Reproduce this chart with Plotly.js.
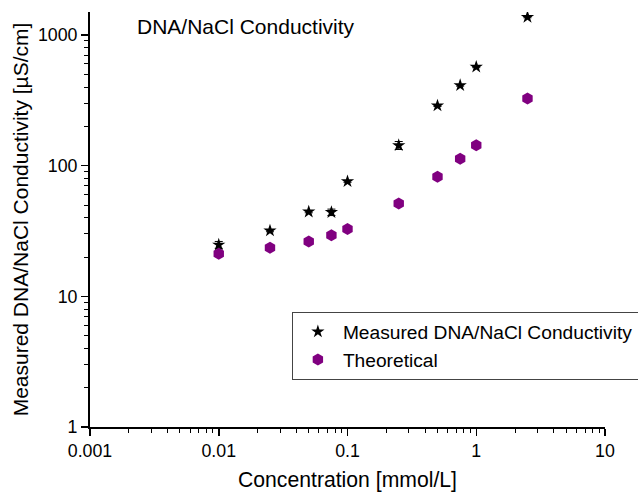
<!DOCTYPE html>
<html>
<head>
<meta charset="utf-8">
<script src="https://cdn.plot.ly/plotly-3.0.1.min.js"></script>
<style>html,body{margin:0;padding:0;background:#fff;}#chart{width:638px;height:492px;}</style>
</head>
<body>
<div id="chart"></div>
<script>
var concentration = [0.01, 0.025, 0.05, 0.075, 0.1, 0.25, 0.5, 0.75, 1, 2.5];
var measured = [24.8, 31.8, 44.4, 44.0, 75.8, 143, 288, 412, 570, 1369];
var measuredErr = [1.5, 0.6, 0.8, 2.5, 1.2, 10, 4, 6, 8, 15];
var theoretical = [21.2, 23.5, 26.3, 29.4, 32.7, 51.4, 82.4, 113, 143, 326];
var xTickVals = [0.001, 0.01, 0.1, 1, 10];
var xTickText = ['0.001', '0.01', '0.1', '1', '10'];
var yTickVals = [1, 10, 100, 1000];
var yTickText = ['1', '10', '100', '1000'];

var fontFam = 'Liberation Sans, Arial, sans-serif';

var traces = [
  {
    x: concentration, y: measured, type: 'scatter', mode: 'markers',
    name: 'Measured DNA/NaCl Conductivity',
    marker: {symbol: 'star', size: 10, color: '#000000'},
    error_y: {type: 'data', array: measuredErr, visible: true, color: '#000000', thickness: 1, width: 4}
  },
  {
    x: concentration, y: theoretical, type: 'scatter', mode: 'markers',
    name: 'Theoretical',
    marker: {symbol: 'hexagon', size: 12, color: '#800080'}
  }
];

var layout = {
  width: 638, height: 492,
  margin: {l: 90, r: 33, t: 12, b: 65, autoexpand: false},
  paper_bgcolor: '#ffffff', plot_bgcolor: '#ffffff',
  font: {family: fontFam, size: 18, color: '#000000'},
  showlegend: true,
  legend: {
    x: 0.392, y: 0.278, xanchor: 'left', yanchor: 'top',
    bordercolor: '#444444', borderwidth: 1, bgcolor: 'rgba(255,255,255,0)',
    font: {family: fontFam, size: 19.2, color: '#000000'},
    itemwidth: 40, tracegroupgap: 0
  },
  xaxis: {
    type: 'log', range: [-3, 1], automargin: false,
    tickvals: xTickVals, ticktext: xTickText,
    ticks: 'outside', ticklen: 7, tickwidth: 1.5, tickcolor: '#000',
    showline: true, linecolor: '#000', linewidth: 2,
    showgrid: false, zeroline: false, mirror: false,
    tickfont: {family: fontFam, size: 17.8, color: '#000'},
    minor: {ticks: 'outside', ticklen: 4, tickwidth: 1, tickcolor: '#000', dtick: 'D1', showgrid: false},
    title: {text: 'Concentration [mmol/L]', font: {family: fontFam, size: 21.2, color: '#000'}, standoff: 14}
  },
  yaxis: {
    type: 'log', range: [0, 3.176], automargin: false,
    tickvals: yTickVals, ticktext: yTickText,
    ticks: 'outside', ticklen: 7, tickwidth: 1.5, tickcolor: '#000',
    showline: true, linecolor: '#000', linewidth: 2,
    showgrid: false, zeroline: false, mirror: false,
    tickfont: {family: fontFam, size: 17.8, color: '#000'},
    minor: {ticks: 'outside', ticklen: 4, tickwidth: 1, tickcolor: '#000', dtick: 'D1', showgrid: false},
    title: {text: 'Measured DNA/NaCl Conductivity [µS/cm]', font: {family: fontFam, size: 21, color: '#000'}, standoff: 4}
  },
  annotations: [{
    text: 'DNA/NaCl Conductivity', xref: 'paper', yref: 'paper',
    x: 0.087, y: 0.966, xanchor: 'left', yanchor: 'middle', showarrow: false,
    font: {family: fontFam, size: 21, color: '#000'}
  }]
};

Plotly.newPlot('chart', traces, layout, {displayModeBar: false, staticPlot: true});
</script>
</body>
</html>
